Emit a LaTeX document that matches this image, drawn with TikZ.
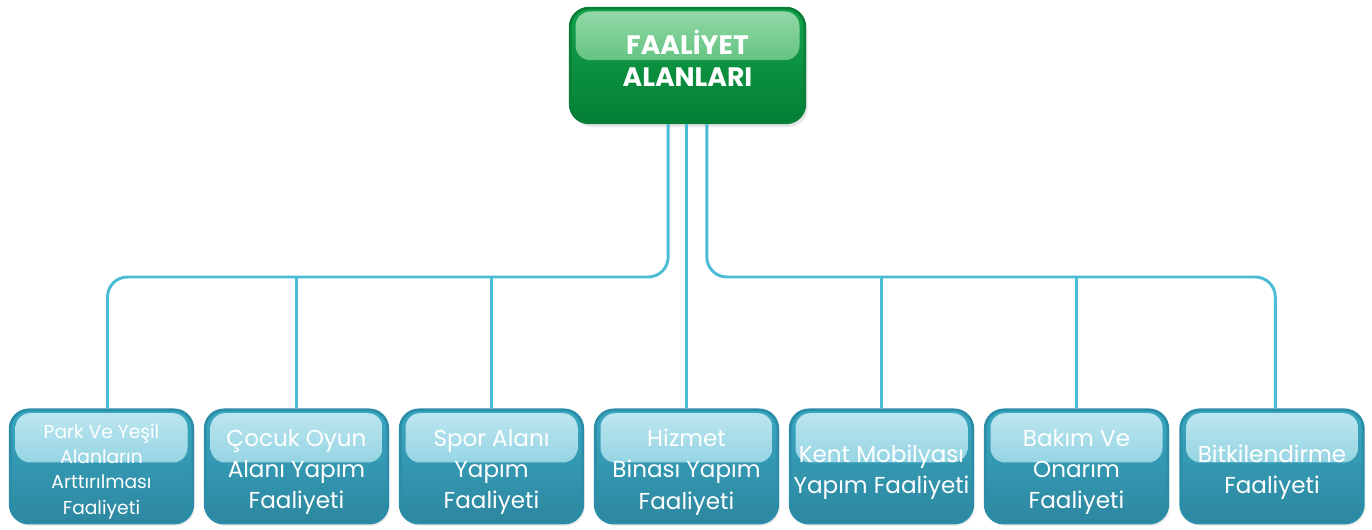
\documentclass[tikz,border=0pt]{standalone}
\usepackage{fontspec}
\setmainfont{Poppins}
\usetikzlibrary{shadows,calc}
\definecolor{linec}{HTML}{4BBCD6}
\definecolor{tealbd}{HTML}{2B8DA7}
\definecolor{tealtop}{HTML}{3AA7C1}
\definecolor{tealbot}{HTML}{2D87A0}
\definecolor{glosst}{HTML}{BEE7F0}
\definecolor{glossb}{HTML}{68BFD4}
\definecolor{greenbd}{HTML}{08803A}
\definecolor{greentop}{HTML}{14A24A}
\definecolor{greenbot}{HTML}{037F35}
\definecolor{ggt}{HTML}{96D9A9}
\definecolor{ggb}{HTML}{27A952}
\tikzset{
  subbox/.style={draw=tealbd, line width=2pt, rounded corners=14pt,
    top color=tealtop, bottom color=tealbot,
    minimum width=137pt, minimum height=85pt, inner sep=0pt,
    drop shadow={opacity=0.15, shadow xshift=1.5pt, shadow yshift=-2pt},
    path picture={\shade[top color=glosst, bottom color=glossb, rounded corners=11pt]
      ([xshift=4pt,yshift=-2.5pt]path picture bounding box.north west) rectangle
      ([xshift=-4pt,yshift=3pt]path picture bounding box.east);}},
  mainbox/.style={draw=greenbd, line width=2pt, rounded corners=14pt,
    top color=greentop, bottom color=greenbot,
    minimum width=176pt, minimum height=86pt, inner sep=0pt,
    drop shadow={opacity=0.2, shadow xshift=2pt, shadow yshift=-3pt},
    path picture={\shade[top color=ggt, bottom color=ggb, rounded corners=11pt]
      ([xshift=4pt,yshift=-2.5pt]path picture bounding box.north west) rectangle
      ([xshift=-4pt,yshift=4pt]path picture bounding box.east);}},
  subtext/.style={text=white, align=center, inner sep=0pt, font=\fontsize{17.3}{23.5}\selectfont},
  maintext/.style={text=white, align=center, inner sep=0pt, font=\fontsize{20}{24}\selectfont\bfseries},
  conn/.style={draw=linec, line width=2.2pt, rounded corners=15pt},
  stem/.style={draw=linec, line width=2.2pt}
}
\begin{document}
\begin{tikzpicture}[x=0.75pt,y=-0.75pt]
\useasboundingbox (0,0) rectangle (1372,530);
\coordinate (bus) at (686,277);
% boxes
\node[mainbox] (top) at (687.5,65.5) {};
\node[subbox] (b1) at (101.5,466.5) {};
\node[subbox] (b2) at (296.5,466.5) {};
\node[subbox] (b3) at (491.5,466.5) {};
\node[subbox] (b4) at (686.5,466.5) {};
\node[subbox] (b5) at (881.5,466.5) {};
\node[subbox] (b6) at (1076.5,466.5) {};
\node[subbox] (b7) at (1272,466.5) {};
% connectors
\draw[conn] ([xshift=-14.5pt]top.south) |- ($(bus)+(-100,0)$) -| ([xshift=4.5pt]b1.north);
\draw[conn] ([xshift=14.5pt]top.south) |- ($(bus)+(100,0)$) -| ([xshift=2.5pt]b7.north);
\draw[stem] (b2.north |- bus) -- (b2.north);
\draw[stem] (b3.north |- bus) -- (b3.north);
\draw[stem] (b5.north |- bus) -- (b5.north);
\draw[stem] (b6.north |- bus) -- (b6.north);
\draw[stem] (b4.north |- top.south) -- (b4.north);
% texts
\node[maintext] (t0) at (687.5,58) {FAALİYET\\ALANLARI};
\node[subtext, font=\fontsize{14}{19}\selectfont] (t1) at (101.5,471.5) {Park Ve Yeşil\\Alanların\\Arttırılması\\Faaliyeti};
\node[subtext] (t2) at (296.5,472) {Çocuk Oyun\\Alanı Yapım\\Faaliyeti};
\node[subtext] (t3) at (491.5,472) {Spor Alanı\\Yapım\\Faaliyeti};
\node[subtext] (t4) at (686.5,472) {Hizmet\\Binası Yapım\\Faaliyeti};
\node[subtext] (t5) at (881.5,472) {Kent Mobilyası\\Yapım Faaliyeti};
\node[subtext] (t6) at (1076.5,472) {Bakım Ve\\Onarım\\Faaliyeti};
\node[subtext] (t7) at (1272,472) {Bitkilendirme\\Faaliyeti};
\end{tikzpicture}
\end{document}
